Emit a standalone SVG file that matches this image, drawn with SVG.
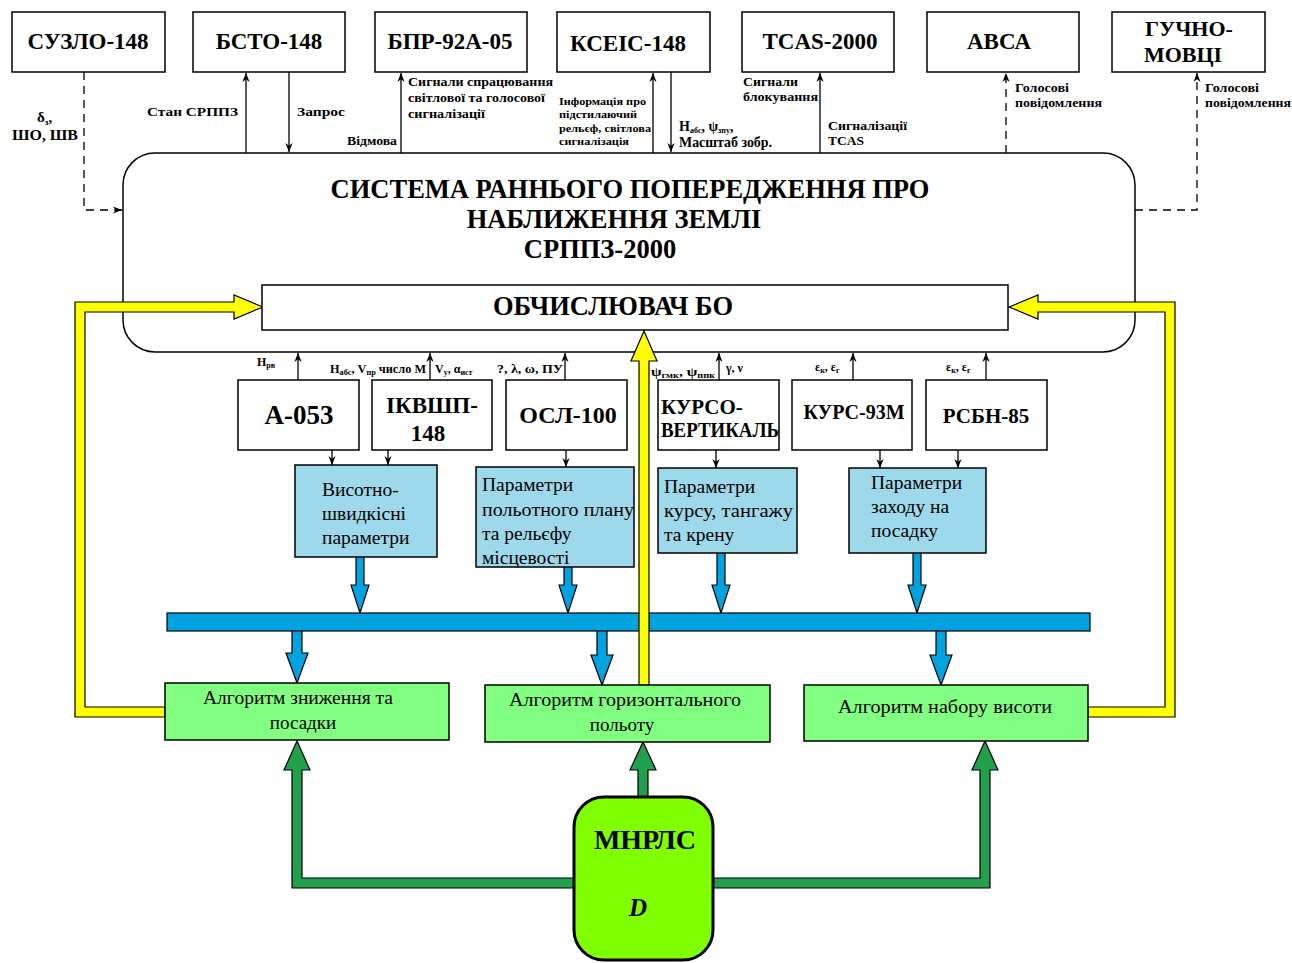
<svg xmlns="http://www.w3.org/2000/svg" width="1292" height="963" viewBox="0 0 1292 963">
<defs>
<marker id="ah" markerUnits="userSpaceOnUse" markerWidth="9" markerHeight="9" viewBox="0 0 10 10" refX="10" refY="5" orient="auto">
<path d="M0,1 L10,5 L0,9 L3,5 z" fill="#000"/>
</marker>
</defs>
<style>
text{font-family:"Liberation Serif","Times New Roman",serif;fill:#000}
.box{fill:#fff;stroke:#000;stroke-width:1.5}
.tb{font-size:23px;font-weight:bold;text-anchor:middle}
.sb{font-size:23px;font-weight:bold;text-anchor:middle}
.ttl{font-size:26.5px;font-weight:bold;text-anchor:middle}
.par{fill:#9dd9ea;stroke:#000;stroke-width:1.5}
.pt{font-size:19.5px}
.alg{fill:#80ff80;stroke:#000;stroke-width:1.5}
.at{font-size:19px;text-anchor:middle}
.ln{stroke:#000;stroke-width:1.3;fill:none}
.lnA{stroke:#000;stroke-width:1.3;fill:none;marker-end:url(#ah)}
.dash{stroke-dasharray:8,6}
.lb{font-size:13px;font-weight:bold}
.sm{font-size:9.5px;font-weight:bold}
.ll{font-size:12px;font-weight:bold}
.yel{fill:#ffff00;stroke:#000;stroke-width:1.2}
.blu{fill:#00a3e0;stroke:#000;stroke-width:1.2}
.grn{fill:#22a04b;stroke:#000;stroke-width:1.2}
</style>

<g id="sys">
<rect x="123" y="153" width="1012" height="199" rx="32" class="box"/>
<text class="ttl" x="630" y="198">СИСТЕМА РАННЬОГО ПОПЕРЕДЖЕННЯ ПРО</text>
<text class="ttl" x="614" y="228">НАБЛИЖЕННЯ ЗЕМЛІ</text>
<text class="ttl" x="600" y="258">СРППЗ-2000</text>
</g>

<g id="connectors">
<polyline class="lnA dash" points="84,72 84,210 122,210"/>
<line class="lnA" x1="246" y1="153" x2="246" y2="73"/>
<line class="lnA" x1="289" y1="72" x2="289" y2="152"/>
<line class="lnA" x1="401" y1="153" x2="401" y2="73"/>
<line class="lnA" x1="653" y1="153" x2="653" y2="73"/>
<line class="lnA" x1="671" y1="72" x2="671" y2="152"/>
<line class="lnA" x1="820" y1="153" x2="820" y2="73"/>
<line class="lnA dash" x1="1006" y1="153" x2="1006" y2="73"/>
<polyline class="lnA dash" points="1135,210 1197,210 1197,73"/>
<line class="lnA" x1="298" y1="380" x2="298" y2="353"/>
<line class="lnA" x1="430" y1="380" x2="430" y2="353"/>
<line class="lnA" x1="565" y1="380" x2="565" y2="353"/>
<line class="lnA" x1="719" y1="380" x2="719" y2="353"/>
<line class="lnA" x1="853" y1="380" x2="853" y2="353"/>
<line class="lnA" x1="986" y1="380" x2="986" y2="353"/>
<line class="lnA" x1="332" y1="450" x2="332" y2="465"/>
<line class="lnA" x1="388" y1="450" x2="388" y2="465"/>
<line class="lnA" x1="566" y1="450" x2="566" y2="467"/>
<line class="lnA" x1="716" y1="450" x2="716" y2="468"/>
<line class="lnA" x1="880" y1="450" x2="880" y2="468"/>
<line class="lnA" x1="958" y1="450" x2="958" y2="468"/>
<polygon class="blu" points="356,557 356,585 351,585 360,613 369,585 364,585 364,557"/>
<polygon class="blu" points="564,567 564,585 559,585 568,613 577,585 572,585 572,567"/>
<polygon class="blu" points="717,553 717,585 712,585 721,613 730,585 725,585 725,553"/>
<polygon class="blu" points="913,553 913,585 908,585 917,613 926,585 921,585 921,553"/>
<rect class="blu" x="167" y="613" width="923" height="18"/>
<polygon class="blu" points="292,631 292,653 286,653 297,683 308,653 302,653 302,631"/>
<polygon class="blu" points="597,631 597,655 591,655 602,685 613,655 607,655 607,631"/>
<polygon class="blu" points="936,631 936,655 930,655 941,685 952,655 946,655 946,631"/>
<polygon class="yel" points="165,717 75,717 75,302 234,302 234,295 263,307 234,319 234,312 85,312 85,707 165,707"/>
<polygon class="yel" points="1088,717 1175,717 1175,302 1038,302 1038,295 1009,307 1038,319 1038,312 1165,312 1165,707 1088,707"/>
<polygon class="yel" points="639,685 639,361 631,361 644,331 657,361 649,361 649,685"/>
<polygon class="grn" points="638,797 638,770 630,770 643,742 656,770 648,770 648,797"/>
<polygon class="grn" points="574,878 302,878 302,770 310,770 297,741 284,770 292,770 292,888 574,888"/>
<polygon class="grn" points="713,878 980,878 980,770 972,770 985,741 998,770 990,770 990,888 713,888"/>
</g>

<g id="labels">
<text class="lb" x="37" y="122" style="font-size:15px">δ<tspan font-size="9" dy="3">з</tspan><tspan dy="-3">,</tspan></text>
<text class="lb" x="12" y="140" style="font-size:15px" textLength="66" lengthAdjust="spacingAndGlyphs">ШО, ШВ</text>
<text class="lb" x="147" y="116" textLength="91" lengthAdjust="spacingAndGlyphs">Стан СРППЗ</text>
<text class="lb" x="297" y="116" textLength="48" lengthAdjust="spacingAndGlyphs">Запрос</text>
<text class="ll" x="347" y="145" textLength="50" lengthAdjust="spacingAndGlyphs">Відмова</text>
<text class="ll" x="408" y="86" textLength="145" lengthAdjust="spacingAndGlyphs">Сигнали спрацювання</text>
<text class="ll" x="408" y="102" textLength="137" lengthAdjust="spacingAndGlyphs">світлової та голосової</text>
<text class="ll" x="408" y="118" textLength="77" lengthAdjust="spacingAndGlyphs">сигналізації</text>
<text class="sm" x="559" y="105" textLength="87" lengthAdjust="spacingAndGlyphs">Інформація про</text>
<text class="sm" x="559" y="118" textLength="78" lengthAdjust="spacingAndGlyphs">підстилаючий</text>
<text class="sm" x="559" y="132" textLength="92" lengthAdjust="spacingAndGlyphs">рельєф, світлова</text>
<text class="sm" x="559" y="145" textLength="70" lengthAdjust="spacingAndGlyphs">сигналізація</text>
<text class="lb" x="679" y="131" style="font-size:14px">H<tspan font-size="8" dy="2">абс</tspan><tspan dy="-2">, ψ</tspan><tspan font-size="8" dy="2">зпу</tspan><tspan dy="-2">,</tspan></text>
<text class="lb" x="679" y="147" textLength="93" lengthAdjust="spacingAndGlyphs" style="font-size:14px">Масштаб зобр.</text>
<text class="lb" x="743" y="86" textLength="55" lengthAdjust="spacingAndGlyphs">Сигнали</text>
<text class="lb" x="743" y="101" textLength="75" lengthAdjust="spacingAndGlyphs">блокування</text>
<text class="lb" x="828" y="130" textLength="79" lengthAdjust="spacingAndGlyphs">Сигналізації</text>
<text class="lb" x="828" y="145" textLength="36" lengthAdjust="spacingAndGlyphs">TCAS</text>
<text class="lb" x="1015" y="92" textLength="54" lengthAdjust="spacingAndGlyphs">Голосові</text>
<text class="lb" x="1015" y="107" textLength="87" lengthAdjust="spacingAndGlyphs">повідомлення</text>
<text class="lb" x="1205" y="92" textLength="54" lengthAdjust="spacingAndGlyphs">Голосові</text>
<text class="lb" x="1205" y="107" textLength="86" lengthAdjust="spacingAndGlyphs">повідомлення</text>
<text class="ll" x="257" y="366">H<tspan font-size="8" dy="2">рв</tspan></text>
<text class="ll" x="330" y="373" textLength="96" lengthAdjust="spacingAndGlyphs">H<tspan font-size="8" dy="2">абс</tspan><tspan dy="-2">, V</tspan><tspan font-size="8" dy="2">пр</tspan><tspan dy="-2"> число M</tspan></text>
<text class="ll" x="435" y="373">V<tspan font-size="8" dy="2">y</tspan><tspan dy="-2">, α</tspan><tspan font-size="8" dy="2">ист</tspan></text>
<text class="ll" x="497" y="373" textLength="66" lengthAdjust="spacingAndGlyphs">?, λ, ω, ПУ</text>
<text class="ll" x="651" y="376" textLength="64" lengthAdjust="spacingAndGlyphs">ψ<tspan font-size="8" dy="2">гмк</tspan><tspan dy="-2">, ψ</tspan><tspan font-size="8" dy="2">ппк</tspan></text>
<text class="ll" x="726" y="372">γ, ν</text>
<text class="ll" x="815" y="371">ε<tspan font-size="8" dy="2">к</tspan><tspan dy="-2">, ε</tspan><tspan font-size="8" dy="2">г</tspan></text>
<text class="ll" x="946" y="371">ε<tspan font-size="8" dy="2">к</tspan><tspan dy="-2">, ε</tspan><tspan font-size="8" dy="2">г</tspan></text>
</g>

<g id="suzlo"><rect class="box" x="12" y="12" width="153" height="60"/><text class="tb" x="88" y="49">СУЗЛО-148</text></g>
<g id="bsto"><rect class="box" x="193" y="12" width="152" height="60"/><text class="tb" x="269" y="49">БСТО-148</text></g>
<g id="bpr"><rect class="box" x="375" y="12" width="152" height="60"/><text class="tb" x="450" y="49">БПР-92А-05</text></g>
<g id="kseis"><rect class="box" x="557" y="12" width="153" height="60"/><text class="tb" x="628" y="51">КСЕІС-148</text></g>
<g id="tcas"><rect class="box" x="742" y="12" width="152" height="60"/><text class="tb" x="820" y="49">TCAS-2000</text></g>
<g id="avsa"><rect class="box" x="927" y="12" width="152" height="60"/><text class="tb" x="999" y="49">АВСА</text></g>
<g id="guchno"><rect class="box" x="1112" y="12" width="153" height="60"/><text class="tb" x="1189" y="36" style="font-size:22px">ГУЧНО-</text><text class="tb" x="1183" y="62" style="font-size:22px">МОВЦІ</text></g>

<g id="obch"><rect class="box" x="262" y="285" width="746" height="45"/><text class="ttl" x="613" y="315">ОБЧИСЛЮВАЧ БО</text></g>

<g id="a053"><rect class="box" x="238" y="380" width="121" height="70"/><text class="sb" x="299" y="424" style="font-size:27px">А-053</text></g>
<g id="ikvshp"><rect class="box" x="372" y="380" width="120" height="70"/><text class="sb" x="432" y="413">ІКВШП-</text><text class="sb" x="428" y="441">148</text></g>
<g id="osl"><rect class="box" x="506" y="380" width="121" height="70"/><text class="sb" x="568" y="423" style="font-size:24px">ОСЛ-100</text></g>
<g id="kursovert"><rect class="box" x="658" y="380" width="121" height="70"/><text class="sb" x="661" y="414" style="text-anchor:start;font-size:21px">КУРСО-</text><text class="sb" x="661" y="437" style="text-anchor:start;font-size:21px" textLength="118" lengthAdjust="spacingAndGlyphs">ВЕРТИКАЛЬ</text></g>
<g id="kurs93"><rect class="box" x="792" y="380" width="120" height="70"/><text class="sb" x="854" y="419" style="font-size:20px">КУРС-93М</text></g>
<g id="rsbn"><rect class="box" x="926" y="380" width="121" height="70"/><text class="sb" x="986" y="423" style="font-size:21px">РСБН-85</text></g>

<g id="p1"><rect class="par" x="295" y="465" width="142" height="92"/><text class="pt" x="322" y="496">Висотно-</text><text class="pt" x="322" y="520">швидкісні</text><text class="pt" x="322" y="544">параметри</text></g>
<g id="p2"><rect class="par" x="476" y="467" width="158" height="100"/><text class="pt" x="482" y="491">Параметри</text><text class="pt" x="482" y="516" textLength="152" lengthAdjust="spacingAndGlyphs">польотного плану</text><text class="pt" x="482" y="540">та рельєфу</text><text class="pt" x="482" y="564">місцевості</text></g>
<g id="p3"><rect class="par" x="658" y="468" width="139" height="85"/><text class="pt" x="664" y="493">Параметри</text><text class="pt" x="664" y="517" textLength="129" lengthAdjust="spacingAndGlyphs">курсу, тангажу</text><text class="pt" x="664" y="541">та крену</text></g>
<g id="p4"><rect class="par" x="849" y="468" width="137" height="85"/><text class="pt" x="871" y="489">Параметри</text><text class="pt" x="871" y="513">заходу на</text><text class="pt" x="871" y="537">посадку</text></g>

<g id="alg1"><rect class="alg" x="165" y="683" width="284" height="57"/><text class="at" x="298" y="704" textLength="190" lengthAdjust="spacingAndGlyphs">Алгоритм зниження та</text><text class="at" x="303" y="729">посадки</text></g>
<g id="alg2"><rect class="alg" x="485" y="685" width="285" height="57"/><text class="at" x="625" y="706" textLength="232" lengthAdjust="spacingAndGlyphs">Алгоритм горизонтального</text><text class="at" x="622" y="731">польоту</text></g>
<g id="alg3"><rect class="alg" x="804" y="685" width="284" height="56"/><text class="at" x="945" y="713" textLength="214" lengthAdjust="spacingAndGlyphs">Алгоритм набору висоти</text></g>

<g id="mnrls"><rect x="574" y="797" width="139" height="163" rx="30" fill="#80ff00" stroke="#000" stroke-width="3"/><text x="645" y="849" style="font-size:28px;font-weight:bold;text-anchor:middle">МНРЛС</text><text x="638" y="916" style="font-size:25px;font-weight:bold;font-style:italic;text-anchor:middle">D</text></g>
</svg>
